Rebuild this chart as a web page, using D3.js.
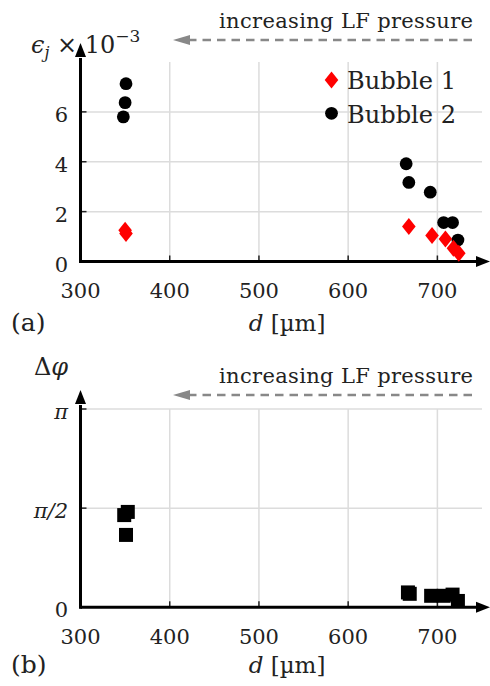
<!DOCTYPE html>
<html><head><meta charset="utf-8">
<script src="https://cdn.jsdelivr.net/npm/d3@7"></script>
<style>body{margin:0;background:#fff}svg{display:block}</style>
</head><body>
<script>
// ---- data ----
const xTicks = [300, 400, 500, 600, 700];
const epsTicks = [0, 2, 4, 6];
const phaseTicks = [0, 0.5, 1];            // in units of pi
const phaseTickLabels = ["0", "π/2", "π"];
const b1D   = [350, 351, 668, 694, 709, 718, 724];
const b1Eps = [1.25, 1.12, 1.40, 1.04, 0.90, 0.53, 0.33];
const b2D   = [351, 350, 348, 665, 668, 692, 707, 717, 723];
const b2Eps = [7.13, 6.37, 5.80, 3.92, 3.17, 2.78, 1.56, 1.56, 0.86];
const phD   = [349, 353, 351, 667, 669, 693, 707, 717, 723];
const phVal = [0.465, 0.481, 0.365, 0.075, 0.068, 0.058, 0.058, 0.064, 0.032]; // units of pi
const legendLabels = ["Bubble 1", "Bubble 2"];
const arrowText = "increasing LF pressure";

const W = 490, H = 686;
const FONT = "'DejaVu Serif', 'Liberation Serif', 'Times New Roman', serif";
const svg = d3.select("body").append("svg").attr("width", W).attr("height", H)
  .attr("font-family", FONT).style("font-family", FONT);

const x = d3.scaleLinear().domain([300, 750]).range([80.5, 482]);
const yA = d3.scaleLinear().domain([0, 8]).range([261.5, 62]);
const yB = d3.scaleLinear().domain([0, 1]).range([607.3, 409]);

function panel(y, yTicks, yLabels, gridY, topVal, labelTop, tag, tagY, arrowY, textY) {
  const g = svg.append("g");
  const y0 = y(0), yt = y(topVal);
  g.selectAll(".vg").data(xTicks.slice(1)).join("line")
    .attr("x1", d => x(d)).attr("x2", d => x(d)).attr("y1", y0).attr("y2", yt)
    .attr("stroke", "#dcdcdc").attr("stroke-width", 1.5);
  g.selectAll(".hg").data(gridY).join("line")
    .attr("x1", x(300)).attr("x2", x(750)).attr("y1", d => y(d)).attr("y2", d => y(d))
    .attr("stroke", "#dcdcdc").attr("stroke-width", 1.5);
  g.selectAll(".xt").data(xTicks.slice(1)).join("line")
    .attr("x1", d => x(d)).attr("x2", d => x(d)).attr("y1", y0).attr("y2", y0 - 6)
    .attr("stroke", "#222").attr("stroke-width", 1.5);
  g.selectAll(".yt").data(yTicks.slice(1)).join("line")
    .attr("x1", x(300)).attr("x2", x(300) + 6).attr("y1", d => y(d)).attr("y2", d => y(d))
    .attr("stroke", "#222").attr("stroke-width", 1.5);
  g.selectAll(".xl").data(xTicks).join("text")
    .attr("x", d => x(d)).attr("y", y0 + 36.5).attr("text-anchor", "middle")
    .attr("font-size", 21).attr("fill", "#222").text(d => d);
  g.selectAll(".yl").data(yTicks).join("text")
    .attr("x", 68).attr("y", d => y(d) + 10).attr("text-anchor", "end")
    .attr("font-size", 21).attr("fill", "#222").text((d, i) => yLabels[i]);
  g.append("line").attr("x1", x(300)).attr("x2", 478).attr("y1", y0).attr("y2", y0)
    .attr("stroke", "#000").attr("stroke-width", 3);
  g.append("line").attr("x1", x(300)).attr("x2", x(300)).attr("y1", y0 + 1.5).attr("y2", yt - 4)
    .attr("stroke", "#000").attr("stroke-width", 3);
  g.append("path").attr("d", `M490,${y0} L476,${y0 - 5.5} L476,${y0 + 5.5} Z`).attr("fill", "#000");
  const xa = x(300), tip = yt - 19;
  g.append("path").attr("d", `M${xa},${tip} L${xa - 5.5},${tip + 14} L${xa + 5.5},${tip + 14} Z`).attr("fill", "#000");
  g.append("line").attr("x1", 188).attr("x2", 476).attr("y1", arrowY).attr("y2", arrowY)
    .attr("stroke", "#888").attr("stroke-width", 2.5).attr("stroke-dasharray", "8.5,6");
  g.append("path").attr("d", `M173,${arrowY} L190,${arrowY - 5} L190,${arrowY + 5} Z`).attr("fill", "#888");
  g.append("text").attr("x", 473).attr("y", textY).attr("text-anchor", "end")
    .attr("font-size", 21).attr("fill", "#222").attr("textLength", 254).attr("lengthAdjust", "spacing").text(arrowText);
  const xl = g.append("text").attr("x", 287).attr("y", tagY).attr("text-anchor", "middle").attr("font-size", 23).attr("fill", "#222");
  xl.append("tspan").attr("font-style", "italic").text("d");
  xl.append("tspan").text(" [µm]");
  g.append("text").attr("x", 11).attr("y", tagY).attr("font-size", 25).attr("fill", "#222").text(tag);
  labelTop(g);
  return g;
}

const gA = panel(yA, epsTicks, epsTicks.map(String), [2, 4, 6], 8, g => {
  const t = g.append("text").attr("x", 31).attr("y", 53).attr("font-size", 24).attr("fill", "#222");
  t.append("tspan").attr("font-style", "italic").text("ϵ");
  t.append("tspan").attr("font-style", "italic").attr("font-size", 16).attr("dy", 5).text("j");
  t.append("tspan").attr("dy", -5).text(" × 10");
  t.append("tspan").attr("font-size", 17).attr("dy", -11).text("−3");
}, "(a)", 331, 40, 28);

const gB = panel(yB, phaseTicks, phaseTickLabels, [0.5, 1], 1, g => {
  const t = g.append("text").attr("x", 34).attr("y", 375).attr("font-size", 24).attr("fill", "#222");
  t.append("tspan").text("Δ");
  t.append("tspan").attr("font-style", "italic").text("φ");
}, "(b)", 673, 395, 383);
gB.selectAll("text").filter(function () { return this.textContent === "π" || this.textContent === "π/2"; })
  .attr("font-style", "italic");

const diamond = (cx, cy) => `M${cx},${cy - 8.5} L${cx + 6.8},${cy} L${cx},${cy + 8.5} L${cx - 6.8},${cy} Z`;
gA.selectAll(".b2").data(b2D).join("circle")
  .attr("cx", d => x(d)).attr("cy", (d, i) => yA(b2Eps[i])).attr("r", 6.4).attr("fill", "#000");
gA.selectAll(".b1").data(b1D).join("path")
  .attr("d", (d, i) => diamond(x(d), yA(b1Eps[i]))).attr("fill", "#ff0000");

gA.append("path").attr("d", diamond(331.5, 80)).attr("fill", "#ff0000");
gA.append("circle").attr("cx", 331.5).attr("cy", 113.3).attr("r", 6.4).attr("fill", "#000");
gA.selectAll(".lg").data(legendLabels).join("text")
  .attr("x", 347).attr("y", (d, i) => 89 + i * 33.5).attr("font-size", 25).attr("fill", "#222")
  .attr("textLength", 109).attr("lengthAdjust", "spacingAndGlyphs").text(d => d);

gB.selectAll(".sq").data(phD).join("rect")
  .attr("x", d => x(d) - 7).attr("y", (d, i) => yB(phVal[i]) - 7)
  .attr("width", 14).attr("height", 14).attr("fill", "#000");
</script>
</body></html>
